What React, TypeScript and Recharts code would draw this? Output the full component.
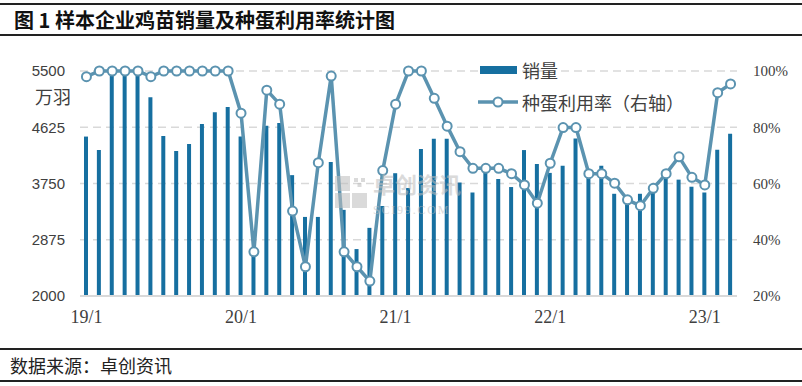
import { ComposedChart, Bar, Line, XAxis, YAxis, CartesianGrid } from "recharts"

const months = [
  "19/1", "19/2", "19/3", "19/4", "19/5", "19/6", "19/7", "19/8", "19/9", "19/10", "19/11", "19/12",
  "20/1", "20/2", "20/3", "20/4", "20/5", "20/6", "20/7", "20/8", "20/9", "20/10", "20/11", "20/12",
  "21/1", "21/2", "21/3", "21/4", "21/5", "21/6", "21/7", "21/8", "21/9", "21/10", "21/11", "21/12",
  "22/1", "22/2", "22/3", "22/4", "22/5", "22/6", "22/7", "22/8", "22/9", "22/10", "22/11", "22/12",
  "23/1", "23/2", "23/3",
]

// 销量（万羽）
const sales = [
  4480, 4270, 5430, 5460, 5470, 5090, 4490, 4255, 4365, 4675, 4860, 4940,
  4480, 2650, 4650, 4690, 3880, 3230, 3230, 4085, 3340, 2730, 3060, 3400,
  3910, 3680, 4285, 4445, 4445, 3765, 3610, 3940, 3820, 3695, 4270, 4055,
  3915, 4025, 4450, 3850, 4025, 3590, 3470, 3590, 3660, 3860, 3810, 3700,
  3610, 4275, 4525,
]

// 种蛋利用率（%）
const rate = [
  98, 100, 100, 100, 100, 98, 100, 100, 100, 100, 100, 100,
  85, 35.7, 93.2, 88.2, 50.2, 30.4, 67.4, 98.2, 35.7, 30.4, 25.3, 64.6,
  88.2, 100, 100, 90.3, 80.4, 71.3, 65.4, 65.4, 65.4, 63.5, 59.5, 53,
  67.2, 79.9, 79.9, 63.5, 63.5, 60.1, 54.2, 52.1, 58.3, 63.5, 69.5, 62.2,
  59.5, 92.3, 95.4,
]

const leftTicks = [2000, 2875, 3750, 4625, 5500]
const rightTicks = [20, 40, 60, 80, 100]

const data = months.map((m, i) => ({ month: m, sales: sales[i], rate: rate[i] }))

const BAR = "#166fa0"
const LINE = "#5b93b0"
const TEXT = "#404040"
const cjk = '"Noto Sans CJK SC", "Noto Sans", sans-serif'

function LegendBox() {
  return (
    <div style={{ position: "absolute", left: 478, top: 58, fontFamily: cjk, fontSize: 18, color: TEXT, lineHeight: "22px" }}>
      <div style={{ display: "flex", alignItems: "center", height: 24 }}>
        <svg width={44} height={10}>
          <rect x={2} y={1} width={37} height={8} fill={BAR} />
        </svg>
        <span>销量</span>
      </div>
      <div style={{ display: "flex", alignItems: "center", height: 24, marginTop: 8 }}>
        <svg width={44} height={14}>
          <line x1={0} y1={7} x2={40} y2={7} stroke={LINE} strokeWidth={3.5} />
          <circle cx={20} cy={7} r={4.5} fill="#fff" stroke={LINE} strokeWidth={2} />
        </svg>
        <span>种蛋利用率（右轴）</span>
      </div>
    </div>
  )
}

export default function App() {
  return (
    <div style={{ position: "absolute", left: 0, top: 0, width: 802, height: 386, background: "#fff", overflow: "hidden" }}>
      <div style={{ position: "absolute", left: 0, top: 3, width: 802, height: 2, background: "#222" }} />
      <div style={{ position: "absolute", left: 14, top: 6, fontFamily: cjk, fontWeight: 700, fontSize: 20, color: "#111", whiteSpace: "pre", lineHeight: "28px" }}>
        图 1 样本企业鸡苗销量及种蛋利用率统计图
      </div>
      <div style={{ position: "absolute", left: 0, top: 34, width: 802, height: 2, background: "#222" }} />

      <div style={{ position: "absolute", left: 0, top: 0 }}>
        <ComposedChart width={802} height={340} data={data} margin={{ top: 71, right: 0, bottom: 0, left: 0 }}>
          <CartesianGrid yAxisId="left" vertical={false} stroke="#d9d9d9" strokeWidth={1.5} strokeDasharray="8 5" />
          <XAxis
            dataKey="month"
            interval={11}
            height={44}
            tickLine={false}
            tickSize={0}
            tickMargin={14}
            axisLine={{ stroke: "#d9d9d9", strokeWidth: 2 }}
            tick={{ fill: TEXT, fontSize: 18, fontFamily: '"Liberation Serif", serif' }}
          />
          <YAxis
            yAxisId="left"
            width={80}
            domain={[2000, 5500]}
            ticks={leftTicks}
            axisLine={false}
            tickLine={false}
            tickSize={0}
            tickMargin={15}
            tick={{ fill: TEXT, fontSize: 15, fontFamily: '"Liberation Sans", sans-serif' }}
          />
          <YAxis
            yAxisId="right"
            orientation="right"
            width={65}
            domain={[20, 100]}
            ticks={rightTicks}
            axisLine={false}
            tickLine={false}
            tickSize={0}
            tickMargin={16}
            tickFormatter={(v) => `${v}%`}
            tick={{ fill: TEXT, fontSize: 15, fontFamily: '"Liberation Serif", serif' }}
          />
          <Bar yAxisId="left" dataKey="sales" name="销量" fill={BAR} barSize={4} isAnimationActive={false} />
          <Line
            yAxisId="right"
            type="linear"
            dataKey="rate"
            name="种蛋利用率（右轴）"
            stroke={LINE}
            strokeWidth={3.5}
            dot={{ r: 4.5, fill: "#fff", stroke: LINE, strokeWidth: 2 }}
            isAnimationActive={false}
          />
        </ComposedChart>
      </div>

      <LegendBox />

      <div style={{ position: "absolute", left: 35, top: 84, fontFamily: cjk, fontSize: 18, color: TEXT, lineHeight: "24px" }}>万羽</div>

      {/* watermark */}
      <div style={{ position: "absolute", left: 335, top: 174, opacity: 0.55, pointerEvents: "none" }}>
        <svg width={36} height={36}>
          <rect x={0} y={2} width={15} height={15} fill="#bdbdbd" />
          <rect x={0} y={19} width={15} height={15} fill="#bdbdbd" />
          <rect x={17} y={19} width={15} height={15} fill="#bdbdbd" />
          <rect x={19} y={4} width={4} height={4} fill="#bdbdbd" />
          <rect x={26} y={4} width={4} height={4} fill="#bdbdbd" />
          <rect x={22.5} y={9} width={4} height={4} fill="#bdbdbd" />
        </svg>
      </div>
      <div style={{ position: "absolute", left: 373, top: 172, fontFamily: cjk, fontSize: 22, fontWeight: 700, color: "#bdbdbd", opacity: 0.55, lineHeight: "22px" }}>卓创资讯</div>
      <div style={{ position: "absolute", left: 373, top: 204, fontFamily: '"Liberation Serif", serif', fontSize: 12, color: "#bdbdbd", opacity: 0.55, letterSpacing: 1.8, lineHeight: "12px" }}>SCI99.COM</div>

      <div style={{ position: "absolute", left: 0, top: 348, width: 802, height: 2, background: "#222" }} />
      <div style={{ position: "absolute", left: 10, top: 352, fontFamily: cjk, fontSize: 18, color: "#222", lineHeight: "26px" }}>数据来源：卓创资讯</div>
      <div style={{ position: "absolute", left: 0, top: 380, width: 802, height: 2, background: "#222" }} />
    </div>
  )
}
